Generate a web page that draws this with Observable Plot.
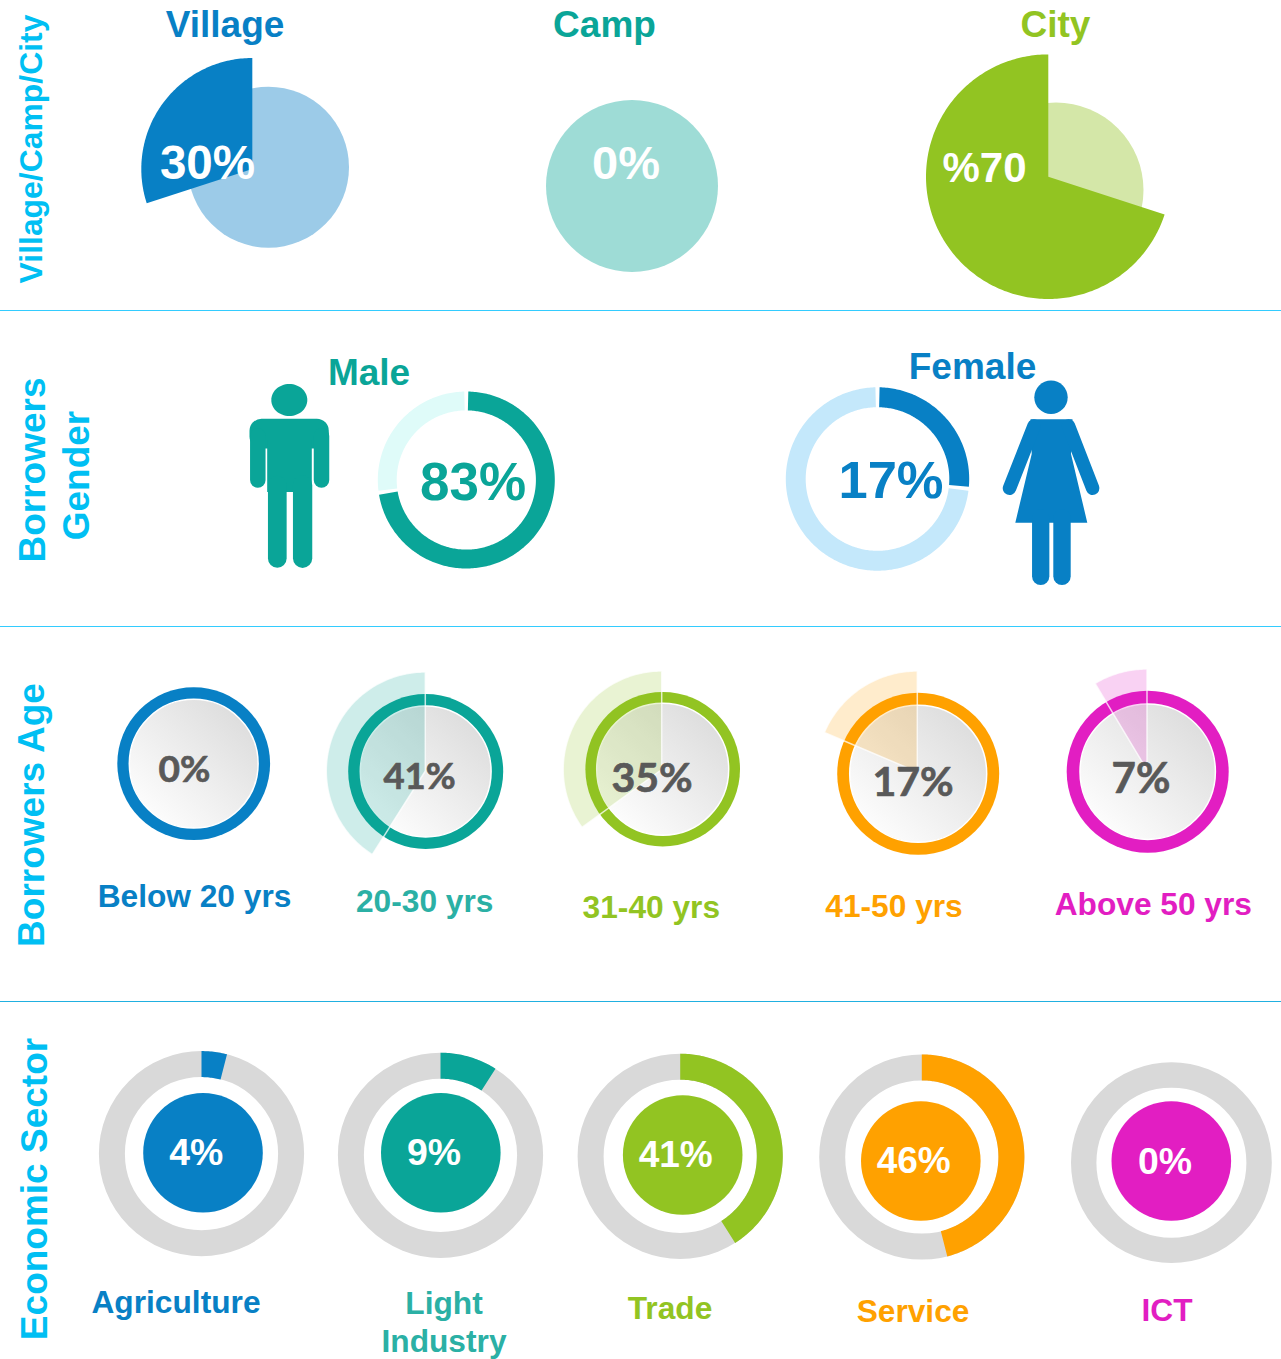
<!DOCTYPE html>
<html>
<head>
<meta charset="utf-8">
<style>html,body{margin:0;padding:0;background:#fff}svg{display:block}</style>
<script src="https://cdn.jsdelivr.net/npm/d3@7"></script>
<script src="https://cdn.jsdelivr.net/npm/@observablehq/plot@0.6"></script>
</head>
<body>
<div id="chart"></div>
<script>
// ---------- values ----------
const sites = ["Village", "Camp", "City"];
const siteLabels = ["30%", "0%", "%70"];
const siteShares = [0.30, 0, 0.70];

const genders = ["Male", "Female"];
const genderLabels = ["83%", "17%"];
const genderArcShares = [0.727, 0.267]; // the arcs as drawn in the source

const ageGroups = ["Below 20 yrs", "20-30 yrs", "31-40 yrs", "41-50 yrs", "Above 50 yrs"];
const ageLabels = ["0%", "41%", "35%", "17%", "7%"];
const ageWedgeShares = [0, 0.41, 0.35, 0.186, 0.086]; // the wedges as drawn in the source

const sectors = ["Agriculture", ["Light", "Industry"], "Trade", "Service", "ICT"];
const sectorLabels = ["4%", "9%", "41%", "46%", "0%"];
const sectorShares = [0.04, 0.09, 0.41, 0.46, 0];

const sectionTitles = ["Village/Camp/City", "Borrowers", "Gender", "Borrowers Age", "Economic Sector"];

// ---------- palette ----------
const BLUE = "#0880c5", TEAL = "#0aa598", GREEN = "#92c422", ORANGE = "#ffa100", MAGENTA = "#e21ec2";
const CYAN = "#00bff3", GREY = "#d9d9d9", DARKTEXT = "#595959", TEALTEXT = "#2bb0a5";
const FONT = "Liberation Sans";

// ---------- layout ----------
const siteLayout = [
  {cx: 252.3, cy: 169, r: 111, from: 360 - 108, bx: 268.5, by: 167.2, br: 80.5, bg: "#9ccbe8", c: BLUE, tx: 225, tb: 37, lx: 207.5, lb: 179, fs: 47.6},
  {bx: 632, by: 186, br: 86, bg: "#9edcd6", c: TEAL, tx: 604.5, tb: 37, lx: 626, lb: 179, fs: 47},
  {cx: 1048.3, cy: 176.7, r: 122.3, from: 108, bx: 1056, by: 190, br: 87.5, bg: "#d4e7a8", c: GREEN, tx: 1055.5, tb: 37, lx: 984.5, lb: 182, fs: 42}
];
const genderLayout = [
  {cx: 466.3, cy: 480, r0: 69.6, r1: 88.5, light: "#dffbf9", c: TEAL, tx: 369, tb: 385, lx: 473, lb: 500, fs: 53},
  {cx: 877.5, cy: 479, r0: 71.8, r1: 91.7, light: "#c4e8fb", c: BLUE, tx: 972.5, tb: 378.5, lx: 891, lb: 498.3, fs: 52.5}
];
const ageLayout = [
  {cx: 193.7, cy: 763.7, ro: 76.4, ri: 64.4, c: BLUE, lc: BLUE, lx: 194.5, lb: 907, px: 184.5, pb: 781.5, fs: 37},
  {cx: 425.7, cy: 771.5, ro: 77.5, ri: 65.4, wx: 425.3, wy: 771, wr: 99, c: TEAL, lc: TEALTEXT, lx: 424.7, lb: 912, px: 419.5, pb: 789, fs: 36.5},
  {cx: 662.7, cy: 769.2, ro: 77.3, ri: 66, wx: 661.7, wy: 769.5, wr: 98.5, c: GREEN, lc: GREEN, lx: 651.3, lb: 918, px: 652, pb: 792, fs: 41},
  {cx: 918.2, cy: 773.8, ro: 81, ri: 68.5, wx: 917.3, wy: 772, wr: 101, c: ORANGE, lc: ORANGE, lx: 894, lb: 917, px: 913, pb: 796, fs: 41},
  {cx: 1147.7, cy: 771.7, ro: 81, ri: 67.7, wx: 1147, wy: 770, wr: 101, c: MAGENTA, lc: MAGENTA, lx: 1153.3, lb: 915, px: 1141, pb: 793, fs: 42}
];
const sectorLayout = [
  {cx: 201.5, cy: 1153.7, dx: 203, dy: 1152.7, ro: 102.6, ri: 76.6, c: BLUE, lc: BLUE, lx: 176, lb: 1313.3, px: 196.3, pb: 1165, fs: 37.4},
  {cx: 440.5, cy: 1155.3, dx: 440.8, dy: 1152.7, ro: 102.6, ri: 76.6, c: TEAL, lc: TEALTEXT, lx: 444, lb: 1314, px: 434, pb: 1165, fs: 37.4},
  {cx: 680.2, cy: 1156.3, dx: 682.7, dy: 1155, ro: 102.6, ri: 76.6, c: GREEN, lc: GREEN, lx: 670, lb: 1319.3, px: 675.7, pb: 1167.3, fs: 37},
  {cx: 921.8, cy: 1157, dx: 920.8, dy: 1161, ro: 102.6, ri: 76.6, c: ORANGE, lc: ORANGE, lx: 913, lb: 1321.7, px: 913.7, pb: 1173.3, fs: 37},
  {cx: 1171.4, cy: 1162.7, dx: 1171.3, dy: 1161, ro: 100.4, ri: 75, c: MAGENTA, lc: MAGENTA, lx: 1167, lb: 1321, px: 1165, pb: 1173.5, fs: 37.4}
];
const titleLayout = [
  {x: 42, y: 149, fs: 31.9},
  {x: 44.5, y: 470, fs: 37},
  {x: 89, y: 475.5, fs: 37},
  {x: 44, y: 815, fs: 37},
  {x: 47, y: 1189, fs: 37}
];
const ruleLayout = [
  {y: 310.5, c: "#33ccff"},
  {y: 626.5, c: "#33ccff"},
  {y: 1001.5, c: "#21b0e0"}
];

// ---------- helpers that build marks ----------
const base = {x: "x", y: "y"};
function sector(cx, cy, r0, r1, a0, a1) {
  const n = Math.max(2, Math.ceil(Math.abs(a1 - a0)));
  const pts = [];
  const at = (r, a) => ({x: cx + r * Math.sin(a * Math.PI / 180), y: cy - r * Math.cos(a * Math.PI / 180)});
  for (let i = 0; i <= n; ++i) pts.push(at(r1, a0 + (a1 - a0) * i / n));
  if (r0 === 0) pts.push({x: cx, y: cy});
  else for (let i = n; i >= 0; --i) pts.push(at(r0, a0 + (a1 - a0) * i / n));
  return pts;
}
const shape = (pts, fill, o = {}) => Plot.line(pts, {...base, curve: "linear-closed", fill, stroke: "none", ...o});
const disc = (x, y, r, fill, o = {}) => Plot.dot([{x, y, r}], {...base, r: "r", fill, stroke: "none", ...o});
const ring = (x, y, ro, ri, stroke) => Plot.dot([{x, y, r: (ro + ri) / 2}], {...base, r: "r", fill: "none", stroke, strokeWidth: ro - ri});
const label = (text, x, y, fontSize, fill, o = {}) =>
  Plot.text([{x, y, t: text}], {...base, text: "t", fontSize, fill, fontFamily: FONT, fontWeight: "bold", textAnchor: "middle", lineAnchor: "bottom", ...o});
const limb = (pts, stroke, strokeWidth) => Plot.line(pts, {...base, stroke, strokeWidth, strokeLinecap: "round", curve: "linear"});

const marks = [];

// gradient for the grey discs
marks.push(() => {
  const defs = d3.create("svg:defs");
  const g = defs.append("linearGradient").attr("id", "discGrad")
    .attr("x1", 0.1).attr("y1", 0.95).attr("x2", 0.9).attr("y2", 0.1);
  g.append("stop").attr("offset", "0%").attr("stop-color", "#ffffff");
  g.append("stop").attr("offset", "55%").attr("stop-color", "#ececec");
  g.append("stop").attr("offset", "100%").attr("stop-color", "#dcdcdc");
  return defs.node();
});

// separator rules
ruleLayout.forEach(d => marks.push(Plot.ruleY([d.y], {y: v => v, stroke: d.c, strokeWidth: 1})));

// section titles
sectionTitles.forEach((t, i) => {
  const d = titleLayout[i];
  marks.push(label(t, d.x, d.y, d.fs, CYAN, {rotate: -90}));
});

// Row 1: village / camp / city
sites.forEach((s, i) => {
  const d = siteLayout[i];
  marks.push(disc(d.bx, d.by, d.br, d.bg));
  if (siteShares[i] > 0) {
    const span = siteShares[i] * 360;
    marks.push(shape(sector(d.cx, d.cy, 0, d.r, d.from, d.from + span), d.c));
  }
  marks.push(label(s, d.tx, d.tb, 37, d.c));
  marks.push(label(siteLabels[i], d.lx, d.lb, d.fs, "#fff"));
});

// Row 2: gender
const GAP = 1.3;
genders.forEach((g, i) => {
  const d = genderLayout[i];
  const end = genderArcShares[i] * 360;
  marks.push(shape(sector(d.cx, d.cy, d.r0, d.r1, end + GAP, 360 - GAP), d.light));
  marks.push(shape(sector(d.cx, d.cy, d.r0, d.r1, GAP, end - GAP), d.c));
  marks.push(label(g, d.tx, d.tb, 37, d.c));
  marks.push(label(genderLabels[i], d.lx, d.lb, d.fs, d.c));
});

// Man icon
const ellipse = d3.range(0, 360, 6).map(a => ({x: 289.3 + 18 * Math.sin(a * Math.PI / 180), y: 400 + 16 * Math.cos(a * Math.PI / 180)}));
marks.push(shape(ellipse, TEAL));
marks.push(Plot.rect([{x1: 250, x2: 329.3, y1: 419.3, y2: 449}], {x1: "x1", x2: "x2", y1: "y1", y2: "y2", fill: TEAL, rx: 12, inset: 0}));
marks.push(Plot.rect([{x1: 267.7, x2: 312.3, y1: 440, y2: 492.5}], {x1: "x1", x2: "x2", y1: "y1", y2: "y2", fill: TEAL, inset: 0}));
marks.push(limb([{x: 257.8, y: 436}, {x: 257.8, y: 480}], TEAL, 15.5));
marks.push(limb([{x: 321.5, y: 436}, {x: 321.5, y: 480}], TEAL, 15.5));
marks.push(limb([{x: 277.3, y: 485}, {x: 277.3, y: 558.3}], TEAL, 18.7));
marks.push(limb([{x: 302.6, y: 485}, {x: 302.6, y: 558.3}], TEAL, 19.3));

// Woman icon
marks.push(disc(1051, 397.3, 16.7, BLUE));
marks.push(shape([
  {x: 1030.5, y: 419.3}, {x: 1072.5, y: 419.3}, {x: 1071, y: 454},
  {x: 1087.3, y: 522.7}, {x: 1015.3, y: 522.7}, {x: 1031.7, y: 454}
], BLUE));
marks.push(limb([{x: 1034, y: 426}, {x: 1009.5, y: 488.3}], BLUE, 13.5));
marks.push(limb([{x: 1068.5, y: 426}, {x: 1092.7, y: 488.3}], BLUE, 13.5));
marks.push(limb([{x: 1040.7, y: 518}, {x: 1040.7, y: 576.3}], BLUE, 17.3));
marks.push(limb([{x: 1062, y: 518}, {x: 1062, y: 576.3}], BLUE, 17.4));

// Row 3: age
ageGroups.forEach((g, i) => {
  const d = ageLayout[i];
  marks.push(disc(d.cx, d.cy, d.ro, d.c));
  marks.push(disc(d.cx, d.cy, d.ri, "url(#discGrad)", {stroke: "#fff", strokeWidth: 1.5}));
  if (ageWedgeShares[i] > 0) {
    marks.push(shape(sector(d.wx, d.wy, 0, d.wr, 360 - ageWedgeShares[i] * 360, 360), d.c, {
      fillOpacity: 0.2, stroke: "#fff", strokeWidth: 1.5, strokeOpacity: 0.75
    }));
  }
  marks.push(label(ageLabels[i], d.px, d.pb, d.fs, DARKTEXT, {fontFamily: "Lato", stroke: DARKTEXT, strokeWidth: 0.7}));
  marks.push(label(g, d.lx, d.lb, 31.7, d.lc));
});

// Row 4: sector
sectors.forEach((s, i) => {
  const d = sectorLayout[i];
  marks.push(ring(d.cx, d.cy, d.ro, d.ri, GREY));
  if (sectorShares[i] > 0) marks.push(shape(sector(d.cx, d.cy, d.ri, d.ro, 0, sectorShares[i] * 360), d.c));
  marks.push(disc(d.dx, d.dy, 59.8, d.c));
  marks.push(label(sectorLabels[i], d.px, d.pb, d.fs, "#fff"));
  const lines = Array.isArray(s) ? s : [s];
  lines.forEach((t, j) => marks.push(label(t, d.lx, d.lb + j * 38, 31.7, d.lc)));
});

const chart = Plot.plot({
  width: 1281,
  height: 1359,
  margin: 0,
  style: {background: "#fff", overflow: "visible"},
  x: {domain: [0.5, 1281.5], range: [0, 1281], axis: null},
  y: {domain: [0.5, 1359.5], range: [0, 1359], axis: null},
  r: {type: "identity"},
  marks
});
document.getElementById("chart").appendChild(chart);
</script>
</body>
</html>
